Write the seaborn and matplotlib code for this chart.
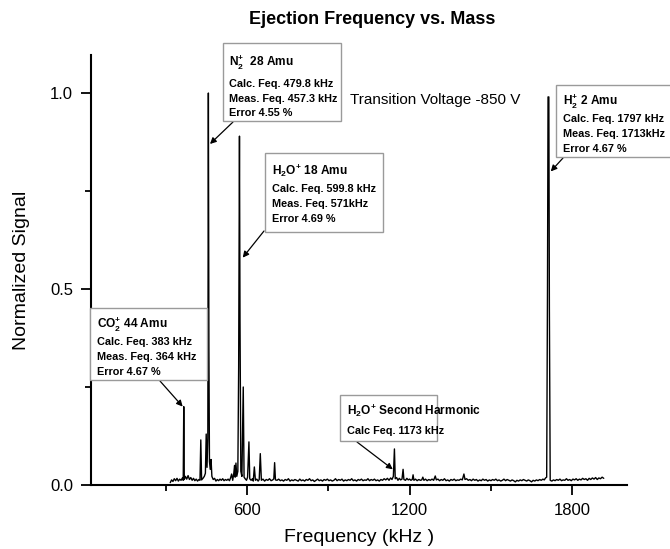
import matplotlib
matplotlib.use("Agg")
import matplotlib.pyplot as plt
import matplotlib.patches as mpatches
import seaborn as sns
import pandas as pd
from matplotlib.ticker import MultipleLocator

# ---------------- data ----------------
freq_khz = [
    315, 320, 325, 330, 335, 340, 345, 350, 355, 360, 363, 365, 367, 371, 376, 381, 386, 391, 396, 401,
    406, 411, 416, 421, 425, 428, 431, 436, 441, 445, 448, 451, 454, 456, 458, 460, 463, 466, 469, 474,
    479, 484, 489, 494, 499, 504, 509, 514, 519, 524, 529, 534, 538, 542, 546, 550, 553, 555, 558, 561,
    565, 568, 571, 573, 576, 580, 585, 588, 592, 597, 601, 606, 609, 614, 619, 622, 626, 630, 635, 640,
    644, 648, 652, 658, 664, 670, 676, 682, 688, 694, 698, 701, 704, 710, 716, 722,
    728, 734, 740, 746, 752, 758, 764, 770, 776, 782, 788, 794, 800, 806, 812, 818, 824, 830, 836, 842,
    848, 854, 860, 866, 872, 878, 884, 890, 896, 902, 908, 914, 920, 926, 932, 938, 944, 950, 956, 962,
    968, 974, 980, 986, 992, 998, 1004, 1010, 1016, 1022, 1028, 1034, 1040, 1046, 1052, 1058, 1064, 1070,
    1076, 1082, 1088, 1094, 1100, 1106, 1112, 1118, 1124, 1130, 1135, 1140, 1144, 1147, 1152, 1157, 1162,
    1167, 1172, 1176, 1179, 1185, 1190, 1195, 1200, 1205, 1210, 1213, 1216, 1222, 1228, 1234, 1240, 1245,
    1249, 1253, 1259, 1265, 1271, 1277, 1283, 1289, 1295, 1299, 1305, 1311, 1317, 1323, 1329, 1335, 1341,
    1347, 1353, 1359, 1365, 1371, 1377, 1383, 1389, 1395, 1401, 1405, 1411, 1417, 1423, 1429, 1435, 1441,
    1447, 1453, 1459, 1465, 1471, 1477, 1483, 1489, 1495, 1501, 1507, 1513, 1519, 1525, 1531, 1537, 1543,
    1549, 1555, 1561, 1567, 1573, 1579, 1585, 1591, 1597, 1603, 1609, 1615, 1621, 1627, 1633, 1639, 1645,
    1651, 1657, 1663, 1669, 1675, 1681, 1687, 1693, 1698, 1703, 1707, 1710, 1712, 1715, 1717, 1720, 1726,
    1732, 1738, 1744, 1750, 1756, 1762, 1768, 1774, 1780, 1786, 1792, 1798, 1804, 1810, 1816, 1822, 1828,
    1834, 1840, 1846, 1852, 1858, 1864, 1870, 1876, 1882, 1888, 1894, 1900, 1906, 1912, 1918,
]
signal = [
    0.006, 0.013, 0.009, 0.016, 0.011, 0.017, 0.010, 0.015, 0.012, 0.018, 0.012, 0.200, 0.014, 0.022, 0.015, 0.024, 0.014, 0.019, 0.012, 0.017,
    0.011, 0.015, 0.010, 0.014, 0.012, 0.115, 0.013, 0.017, 0.022, 0.030, 0.130, 0.045, 0.120, 1.000, 0.350, 0.060, 0.040, 0.065, 0.022, 0.014,
    0.017, 0.010, 0.014, 0.011, 0.015, 0.012, 0.016, 0.011, 0.014, 0.012, 0.015, 0.011, 0.018, 0.028, 0.012, 0.030, 0.050, 0.020, 0.056, 0.022,
    0.035, 0.300, 0.890, 0.420, 0.035, 0.022, 0.250, 0.020, 0.016, 0.012, 0.020, 0.110, 0.016, 0.012, 0.016, 0.010, 0.046, 0.012, 0.015, 0.010,
    0.014, 0.080, 0.012, 0.015, 0.010, 0.014, 0.012, 0.016, 0.011, 0.013, 0.016, 0.057, 0.013, 0.012, 0.015, 0.011,
    0.013, 0.010, 0.014, 0.012, 0.016, 0.010, 0.013, 0.011, 0.014, 0.012, 0.010, 0.015, 0.011, 0.013, 0.010, 0.014, 0.012, 0.016, 0.011, 0.013,
    0.009, 0.012, 0.015, 0.011, 0.013, 0.010, 0.014, 0.012, 0.015, 0.011, 0.013, 0.010, 0.012, 0.016, 0.011, 0.014, 0.012, 0.015, 0.010, 0.013,
    0.011, 0.014, 0.012, 0.016, 0.011, 0.013, 0.010, 0.014, 0.012, 0.015, 0.011, 0.013, 0.012, 0.016, 0.011, 0.014, 0.012, 0.015,
    0.011, 0.013, 0.010, 0.014, 0.012, 0.016, 0.013, 0.017, 0.012, 0.018, 0.014, 0.022, 0.092, 0.016, 0.019, 0.012, 0.017,
    0.013, 0.015, 0.040, 0.014, 0.012, 0.017, 0.013, 0.015, 0.012, 0.014, 0.026, 0.012, 0.015, 0.011, 0.014, 0.012, 0.013,
    0.020, 0.012, 0.015, 0.011, 0.014, 0.012, 0.015, 0.012, 0.023, 0.013, 0.015, 0.011, 0.014, 0.012, 0.016, 0.011, 0.013,
    0.010, 0.014, 0.012, 0.015, 0.011, 0.013, 0.012, 0.015, 0.013, 0.028, 0.014, 0.016, 0.012, 0.014, 0.011, 0.015, 0.012,
    0.014, 0.010, 0.013, 0.011, 0.015, 0.012, 0.014, 0.010, 0.013, 0.011, 0.014, 0.012, 0.015, 0.011, 0.013, 0.010, 0.012,
    0.015, 0.011, 0.014, 0.012, 0.010, 0.013, 0.011, 0.008, 0.012, 0.010, 0.013, 0.011, 0.014, 0.012, 0.010, 0.013, 0.011,
    0.008, 0.012, 0.010, 0.013, 0.011, 0.014, 0.012, 0.015, 0.013, 0.018, 0.020, 0.500, 0.990, 0.990, 0.450, 0.012, 0.010,
    0.013, 0.011, 0.014, 0.012, 0.015, 0.011, 0.013, 0.012, 0.016, 0.012, 0.014, 0.011, 0.015, 0.013, 0.016, 0.012, 0.015,
    0.013, 0.017, 0.014, 0.016, 0.012, 0.017, 0.014, 0.018, 0.015, 0.019, 0.014, 0.018, 0.016, 0.020, 0.017,
]

title = "Ejection Frequency vs. Mass"
x_label = "Frequency (kHz )"
y_label = "Normalized Signal"
x_ticks = [600, 1200, 1800]
y_ticks = [0.0, 0.5, 1.0]
y_ticklabels = ["0.0", "0.5", "1.0"]
condition_text = "Transition Voltage -850 V"

box_n2 = [r"N$_{2}^{+}$  28 Amu", "Calc. Feq. 479.8 kHz", "Meas. Feq. 457.3 kHz", "Error 4.55 %"]
box_h2o = [r"H$_{2}$O$^{+}$ 18 Amu", "Calc. Feq. 599.8 kHz", "Meas. Feq. 571kHz", "Error 4.69 %"]
box_h2 = [r"H$_{2}^{+}$ 2 Amu", "Calc. Feq. 1797 kHz", "Meas. Feq. 1713kHz", "Error 4.67 %"]
box_co2 = [r"CO$_{2}^{+}$ 44 Amu", "Calc. Feq. 383 kHz", "Meas. Feq. 364 kHz", "Error 4.67 %"]
box_harm = [r"H$_{2}$O$^{+}$ Second Harmonic", "Calc Feq. 1173 kHz"]

# arrow targets (data coords)
target_n2 = (462, 0.87)
target_h2o = (583, 0.58)
target_h2 = (1722, 0.80)
target_co2 = (361, 0.20)
target_harm = (1138, 0.04)

# ---------------- figure ----------------
sns.set_theme(style="ticks")
plt.rcParams["font.family"] = ["Liberation Sans", "DejaVu Sans"]
plt.rcParams["mathtext.fontset"] = "custom"
plt.rcParams["mathtext.rm"] = "Liberation Sans:bold"
plt.rcParams["mathtext.it"] = "Liberation Sans:bold"
plt.rcParams["mathtext.bf"] = "Liberation Sans:bold"
plt.rcParams["mathtext.default"] = "rm"
plt.rcParams["text.color"] = "black"
plt.rcParams["axes.labelcolor"] = "black"
plt.rcParams["xtick.color"] = "black"
plt.rcParams["ytick.color"] = "black"

W, H = 670, 549
fig = plt.figure(figsize=(W / 100, H / 100), dpi=100)
ax = fig.add_axes([91 / W, 1 - 485 / H, (627 - 91) / W, (485 - 55) / H])

df = pd.DataFrame({"freq": freq_khz, "signal": signal})
sns.lineplot(data=df, x="freq", y="signal", color="black", lw=1.0, estimator=None,
             sort=False, ax=ax)

ax.set_xlim(22, 2004)
ax.set_ylim(0, 1.097)
ax.set_xticks(x_ticks)
ax.set_yticks(y_ticks)
ax.set_yticklabels(y_ticklabels)
ax.xaxis.set_minor_locator(MultipleLocator(300))
ax.yaxis.set_minor_locator(MultipleLocator(0.25))
ax.tick_params(which="major", direction="out", length=7, width=1.3, labelsize=12, pad=6,
               color="black", labelcolor="black")
ax.tick_params(which="minor", direction="out", length=4, width=1.3, color="black")
for s in ["left", "bottom"]:
    ax.spines[s].set_linewidth(1.5)
    ax.spines[s].set_color("black")
sns.despine(ax=ax)
ax.set_xlabel(x_label, fontsize=14, labelpad=8, color="black")
ax.set_ylabel(y_label, fontsize=14, labelpad=14, color="black")

fig.text(372 / W, 1 - 19 / H, title, fontsize=13, fontweight="bold", ha="center", va="center",
         color="black")
fig.text(350 / W, 1 - 100 / H, condition_text, fontsize=11, ha="left", va="center", color="black")


def px(x, y):
    return (x / W, 1 - y / H)


def draw_box(left, top, right, bottom, lines, text_x, ys):
    rect = mpatches.Rectangle(px(left, bottom), (right - left) / W, (bottom - top) / H,
                              transform=fig.transFigure, facecolor="white",
                              edgecolor="#9a9a9a", lw=1.0, zorder=5)
    fig.patches.append(rect)
    for i, (line, y) in enumerate(zip(lines, ys)):
        fig.text(text_x / W, 1 - y / H, line, fontsize=8.6 if i == 0 else 7.8, fontweight="bold",
                 ha="left", va="center", zorder=6, color="black")


def draw_arrow(start_px, target):
    ax.annotate("", xy=target, xycoords="data",
                xytext=(start_px[0], H - start_px[1]), textcoords="figure pixels",
                arrowprops=dict(arrowstyle="-|>", color="black", lw=0.9,
                                mutation_scale=9, shrinkA=0, shrinkB=0),
                zorder=7, annotation_clip=False)


draw_box(223, 43, 341, 121, box_n2, 229, [62, 84, 99, 113])
draw_box(265, 153, 383, 232, box_h2o, 272, [171, 189, 204, 219])
draw_box(556, 85, 672, 157, box_h2, 563, [101, 119, 134, 149])
draw_box(90, 308, 207, 380, box_co2, 97, [324, 342, 357, 372])
draw_box(340, 395, 437, 441, box_harm, 347, [411, 431])

draw_arrow((233, 122), target_n2)
draw_arrow((264, 231), target_h2o)
draw_arrow((563, 158), target_h2)
draw_arrow((160, 381), target_co2)
draw_arrow((357, 442), target_harm)

fig.savefig("out.png", dpi=100)
